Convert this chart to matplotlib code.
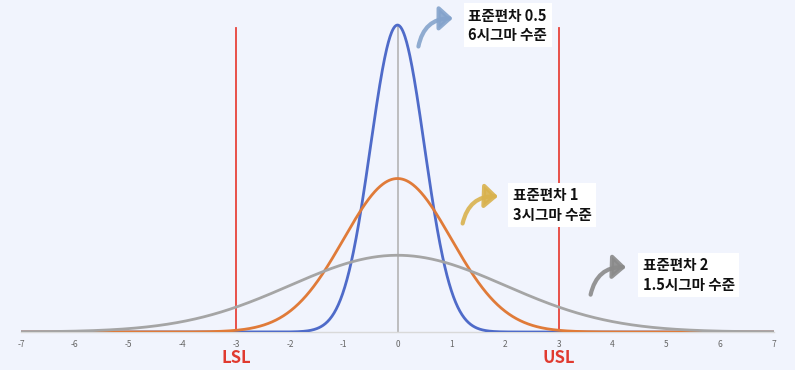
import numpy as np
import matplotlib
matplotlib.use("Agg")
import matplotlib.pyplot as plt
from matplotlib.patches import FancyArrowPatch

plt.rcParams['font.family'] = ['Noto Sans CJK KR', 'DejaVu Sans']

# distributions (mean 0) and their labels
sigmas = [0.5, 1, 2]
colors = ['#4F6BC9', '#E07B39', '#A5A5A5']
labels = ['표준편차 0.5\n6시그마 수준', '표준편차 1\n3시그마 수준', '표준편차 2\n1.5시그마 수준']
label_pos = [(1.32, 0.797), (2.14, 0.330), (4.56, 0.148)]
arrow_from = [(0.38, 0.735), (1.2, 0.275), (3.58, 0.09)]
arrow_to = [(1.08, 0.815), (1.92, 0.352), (4.3, 0.168)]
arrow_colors = ['#84A3CC', '#D9B24E', '#8A8A8A']

spec_limits = [-3, 3]
spec_names = ['LSL', 'USL']
xticks = list(range(-7, 8))

bg = '#F1F4FD'
fig = plt.figure(figsize=(7.95, 3.7), dpi=100, facecolor=bg)
ax = fig.add_axes([21 / 795, 38 / 370, 753 / 795, 332 / 370])
ax.set_facecolor(bg)

x = np.linspace(-7, 7, 1401)
for s, c in zip(sigmas, colors):
    y = np.exp(-0.5 * (x / s) ** 2) / (s * np.sqrt(2 * np.pi))
    ax.plot(x, y, color=c, lw=2, zorder=3, solid_capstyle='round')

# center line
ax.plot([0, 0], [0, 0.795], color='#B4B4B4', lw=1.2, zorder=2)

# spec limits
for lim, name in zip(spec_limits, spec_names):
    ax.plot([lim, lim], [0, 0.79], color='#E8433B', lw=1.3, zorder=2)
    ax.text(lim, -0.068, name, color='#E03A30', fontsize=12, fontweight='bold',
            ha='center', va='center', clip_on=False)

# annotations
for lab, (tx, ty), p0, p1, ac in zip(labels, label_pos, arrow_from, arrow_to, arrow_colors):
    ax.text(tx, ty, lab, fontsize=10.5, fontweight='bold', color='#111111',
            ha='left', va='center', linespacing=1.25, zorder=5,
            bbox=dict(boxstyle='square,pad=0.3', fc='white', ec='none'))
    arr = FancyArrowPatch(p0, p1, connectionstyle='arc3,rad=-0.45',
                          arrowstyle='-|>,head_length=5,head_width=4.5',
                          color=ac, lw=3, mutation_scale=1.6, zorder=4, alpha=0.9)
    ax.add_patch(arr)

ax.set_xlim(-7, 7)
ax.set_ylim(0, 0.863)
ax.set_xticks(xticks)
ax.set_xticklabels([str(t) if t >= 0 else '-' + str(-t) for t in xticks],
                   fontsize=6, color='#666666')
ax.set_yticks([])
ax.tick_params(axis='x', length=0, pad=6)
for side in ['top', 'right', 'left']:
    ax.spines[side].set_visible(False)
ax.spines['bottom'].set_color('#D9D9D9')
ax.spines['bottom'].set_linewidth(1)

fig.savefig('out.png', dpi=100, facecolor=bg)
